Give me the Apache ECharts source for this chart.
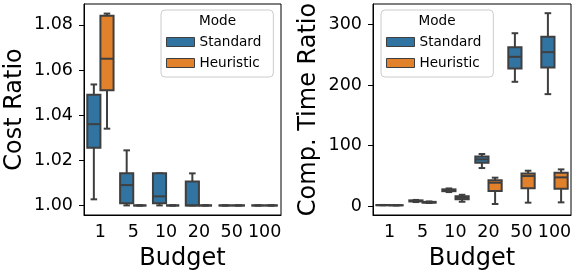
<!DOCTYPE html>
<html>
<head>
<meta charset="utf-8">
<script src="https://cdn.jsdelivr.net/npm/echarts@6/dist/echarts.min.js"></script>
<style>
html,body{margin:0;padding:0;background:#fff;}
#c{width:572px;height:273px;}
</style>
</head>
<body>
<div id="c"></div>
<script>
// Categories
const budgets = ['1', '5', '10', '20', '50', '100'];
const seriesNames = ['Standard', 'Heuristic'];

// Box stats: [min, Q1, median, Q3, max] per budget
const costStandard = [
  [1.0027, 1.0255, 1.036, 1.049, 1.0536],
  [1.000, 1.001, 1.009, 1.0142, 1.0244],
  [1.000, 1.001, 1.004, 1.0142, 1.0142],
  [1.000, 1.000, 1.000, 1.0106, 1.0142],
  [1.000, 1.000, 1.000, 1.000, 1.000],
  [1.000, 1.000, 1.000, 1.000, 1.000]
];
const costHeuristic = [
  [1.034, 1.051, 1.065, 1.084, 1.085],
  [1.000, 1.000, 1.000, 1.000, 1.000],
  [1.000, 1.000, 1.000, 1.000, 1.000],
  [1.000, 1.000, 1.000, 1.000, 1.000],
  [1.000, 1.000, 1.000, 1.000, 1.000],
  [1.000, 1.000, 1.000, 1.000, 1.000]
];
const timeStandard = [
  [1.2, 1.3, 1.4, 1.5, 1.7],
  [6.5, 7.5, 8.3, 9.3, 10],
  [23, 24.5, 26, 27.5, 29],
  [62.7, 71.5, 77, 82, 85.9],
  [205.3, 227.3, 246.6, 262.5, 285.6],
  [184.9, 229, 254.3, 279.6, 318.7]
];
const timeHeuristic = [
  [1.0, 1.1, 1.2, 1.3, 1.4],
  [5, 5.5, 6, 6.8, 7.5],
  [7, 11, 13.5, 16, 18.5],
  [3.3, 24.8, 38.5, 42.4, 46.8],
  [5.5, 29.2, 49.5, 53.9, 58.3],
  [6, 28.6, 47.3, 55, 60.5]
];

// Tick labels
const costTicks = [1.00, 1.02, 1.04, 1.06, 1.08];
const timeTicks = [0, 100, 200, 300];

const colors = ['#3274a1', '#e1812c'];
const edge = '#3f3f3f';
const FONT = 'DejaVu Sans';

function rows(stats) { return stats.map((s, i) => [i].concat(s)); }

function makeRender(sign, color) {
  return function (params, api) {
    const xi = api.value(0);
    const band = api.size([1, 0])[0];
    const w = band * 0.4;
    const cx = api.coord([xi, api.value(3)])[0] + sign * w / 2;
    const y = k => api.coord([xi, api.value(k)])[1];
    const yMin = y(1), yQ1 = y(2), yMed = y(3), yQ3 = y(4), yMax = y(5);
    const ls = { stroke: edge, lineWidth: 2 };
    return {
      type: 'group',
      children: [
        { type: 'line', shape: { x1: cx, y1: yQ1, x2: cx, y2: yMin }, style: ls },
        { type: 'line', shape: { x1: cx, y1: yQ3, x2: cx, y2: yMax }, style: ls },
        { type: 'line', shape: { x1: cx - w / 4, y1: yMin, x2: cx + w / 4, y2: yMin }, style: ls },
        { type: 'line', shape: { x1: cx - w / 4, y1: yMax, x2: cx + w / 4, y2: yMax }, style: ls },
        { type: 'rect', shape: { x: cx - w / 2, y: yQ3, width: w, height: yQ1 - yQ3 },
          style: { fill: color, stroke: edge, lineWidth: 2 } },
        { type: 'line', shape: { x1: cx - w / 2, y1: yMed, x2: cx + w / 2, y2: yMed }, style: ls }
      ]
    };
  };
}

function boxSeries(name, idx, gi, stats) {
  return {
    type: 'custom',
    name: name,
    xAxisIndex: gi,
    yAxisIndex: gi,
    data: rows(stats),
    encode: { x: 0, y: [1, 2, 3, 4, 5] },
    itemStyle: { color: colors[idx], borderColor: edge, borderWidth: 1 },
    renderItem: makeRender(idx === 0 ? -1 : 1, colors[idx]),
    clip: false,
    silent: true
  };
}

function xAxis(gi) {
  return {
    type: 'category', gridIndex: gi, data: budgets,
    name: 'Budget', nameLocation: 'middle', nameGap: 32,
    nameTextStyle: { fontFamily: FONT, fontSize: 24, color: '#000' },
    axisLine: { onZero: false, lineStyle: { color: '#000', width: 1 } },
    axisTick: { alignWithLabel: true, length: 5, lineStyle: { color: '#000', width: 1 } },
    axisLabel: { fontFamily: FONT, fontSize: 17.5, color: '#000', margin: 8, interval: 0 },
    splitLine: { show: false }
  };
}

function yAxis(gi, name, min, max, ticks, fmt, gap) {
  return {
    type: 'value', gridIndex: gi, min: min, max: max,
    name: name, nameLocation: 'middle', nameGap: gap,
    nameTextStyle: { fontFamily: FONT, fontSize: 24, color: '#000' },
    axisLine: { show: true, onZero: false, lineStyle: { color: '#000', width: 1 } },
    axisTick: { show: true, length: 5, customValues: ticks, lineStyle: { color: '#000', width: 1 } },
    axisLabel: { fontFamily: FONT, fontSize: 17.5, color: '#000', margin: 11, customValues: ticks, formatter: fmt },
    splitLine: { show: false }
  };
}

function legend(left) {
  return {
    orient: 'vertical', left: left, top: 10,
    data: seriesNames,
    icon: 'rect', itemWidth: 28, itemHeight: 9, itemGap: 7, itemTextGap: 17,
    itemStyle: { borderColor: edge, borderWidth: 1 },
    textStyle: { fontFamily: FONT, fontSize: 13.6, color: '#000', lineHeight: 14 },
    padding: [25, 12, 7, 5],
    backgroundColor: 'rgba(255,255,255,0.8)',
    borderColor: '#cccccc', borderWidth: 1, borderRadius: 4,
    selectedMode: false
  };
}

const chart = echarts.init(document.getElementById('c'), null, { renderer: 'canvas' });
chart.setOption({
  animation: false,
  backgroundColor: '#fff',
  grid: [
    { left: 84, top: 4, width: 197, height: 211, outerBoundsMode: 'none', containLabel: false, show: true, borderColor: '#000', borderWidth: 1, backgroundColor: 'transparent' },
    { left: 373, top: 4, width: 198, height: 211, outerBoundsMode: 'none', containLabel: false, show: true, borderColor: '#000', borderWidth: 1, backgroundColor: 'transparent' }
  ],
  xAxis: [xAxis(0), xAxis(1)],
  yAxis: [
    yAxis(0, 'Cost Ratio', 0.99575, 1.08925, costTicks, v => v.toFixed(2), 57),
    yAxis(1, 'Comp. Time Ratio', -14.9, 333.9, timeTicks, v => String(Math.round(v)), 52)
  ],
  legend: [legend(161), legend(381)],
  graphic: [
    { type: 'text', x: 217.5, y: 21, z: 100, style: { text: 'Mode', textAlign: 'center', textVerticalAlign: 'middle', font: '13.6px "DejaVu Sans"', fill: '#000' } },
    { type: 'text', x: 437, y: 21, z: 100, style: { text: 'Mode', textAlign: 'center', textVerticalAlign: 'middle', font: '13.6px "DejaVu Sans"', fill: '#000' } }
  ],
  series: [
    boxSeries('Standard', 0, 0, costStandard),
    boxSeries('Heuristic', 1, 0, costHeuristic),
    boxSeries('Standard', 0, 1, timeStandard),
    boxSeries('Heuristic', 1, 1, timeHeuristic)
  ]
});
</script>
</body>
</html>
